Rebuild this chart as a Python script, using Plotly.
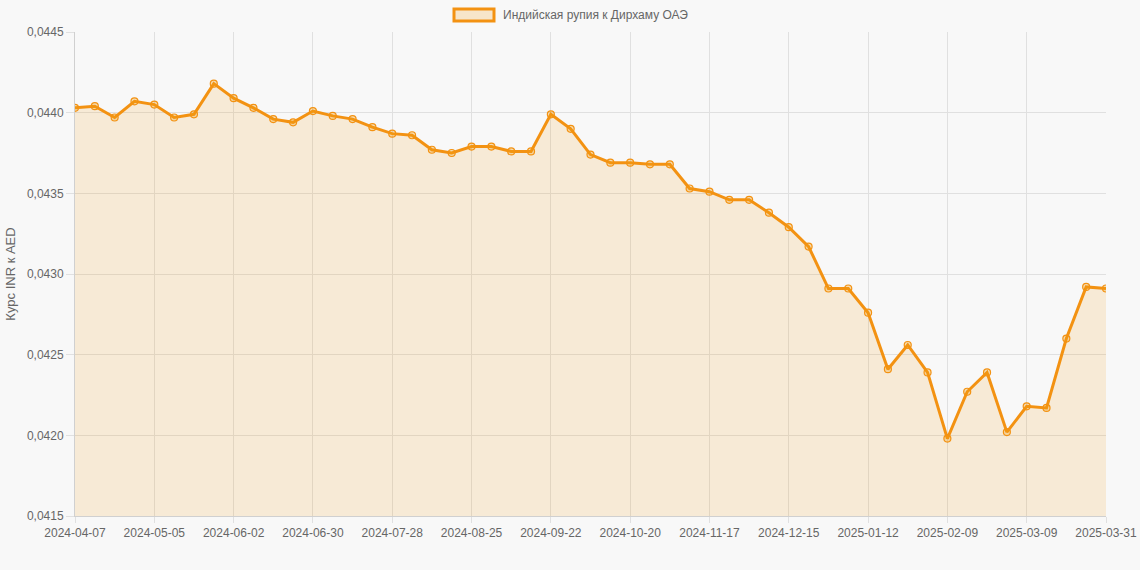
import plotly.graph_objects as go
import datetime as dt

# Category labels (weekly, last point is 2025-03-31)
start = dt.date(2024, 4, 7)
dates = [(start + dt.timedelta(weeks=i)).isoformat() for i in range(52)] + ["2025-03-31"]

rates = [
    0.04403, 0.04404, 0.04397, 0.04407, 0.04405, 0.04397, 0.04399, 0.04418,
    0.04409, 0.04403, 0.04396, 0.04394, 0.04401, 0.04398, 0.04396, 0.04391,
    0.04387, 0.04386, 0.04377, 0.04375, 0.04379, 0.04379, 0.04376, 0.04376,
    0.04399, 0.04390, 0.04374, 0.04369, 0.04369, 0.04368, 0.04368, 0.04353,
    0.04351, 0.04346, 0.04346, 0.04338, 0.04329, 0.04317, 0.04291, 0.04291,
    0.04276, 0.04241, 0.04256, 0.04239, 0.04198, 0.04227, 0.04239, 0.04202,
    0.04218, 0.04217, 0.04260, 0.04292, 0.04291,
]

tick_labels = [dates[i] for i in range(0, 49, 4)] + [dates[-1]]

series_name = "Индийская рупия к Дирхаму ОАЭ"
orange = "#f39212"
fill = "rgba(243,156,18,0.15)"

W, H = 1140, 570
ML, MR, MT, MB = 75, 34, 32, 54
pw, ph = W - ML - MR, H - MT - MB


def px2x(px):
    return (px - ML) / pw


def px2y(py):
    return (H - MB - py) / ph


fig = go.Figure()
fig.add_trace(go.Scatter(
    x=dates, y=rates, mode="lines+markers", name=series_name,
    line=dict(color=orange, width=3),
    marker=dict(size=7, color="rgba(243,156,18,0.3)", line=dict(color=orange, width=1.2)),
    fill="tozeroy", fillcolor=fill,
    showlegend=False,
))

# legend (box + label)
fig.add_shape(type="rect", xref="paper", yref="paper",
              x0=px2x(454), x1=px2x(494), y0=px2y(21), y1=px2y(9),
              line=dict(color=orange, width=3), fillcolor="rgba(243,156,18,0.2)")
fig.add_annotation(xref="paper", yref="paper", x=px2x(501), y=px2y(15),
                   xanchor="left", yanchor="middle", showarrow=False,
                   text=series_name, font=dict(size=12, color="#666"))

fig.update_layout(
    width=W, height=H,
    paper_bgcolor="#f8f8f8", plot_bgcolor="#f8f8f8",
    margin=dict(l=ML, r=MR, t=MT, b=MB, autoexpand=False),
    font=dict(family="Liberation Sans, Arial, sans-serif", size=12, color="#666"),
    separators=",.",
    showlegend=False,
)
fig.update_xaxes(
    type="category", tickmode="array", tickvals=tick_labels, ticktext=tick_labels,
    range=[0, len(dates) - 1], showgrid=True, gridcolor="#e0e0e0",
    showline=True, linecolor="#d0d0d0", ticks="outside", ticklen=6, tickcolor="#e0e0e0",
    tickangle=0, tickfont=dict(size=12, color="#666"),
)
fig.update_yaxes(
    range=[0.0415, 0.0445], dtick=0.0005, tickformat=".4f",
    showgrid=True, gridcolor="#e0e0e0", showline=True, linecolor="#d0d0d0",
    ticks="outside", ticklen=8, tickcolor="#e0e0e0", zeroline=False,
    title=dict(text="Курс INR к AED", font=dict(size=13, color="#666"), standoff=8),
)

fig.write_html(
    "out.html",
    config={"displayModeBar": False},
    post_script="document.body.style.margin='0';document.body.style.background='#f8f8f8';",
)
